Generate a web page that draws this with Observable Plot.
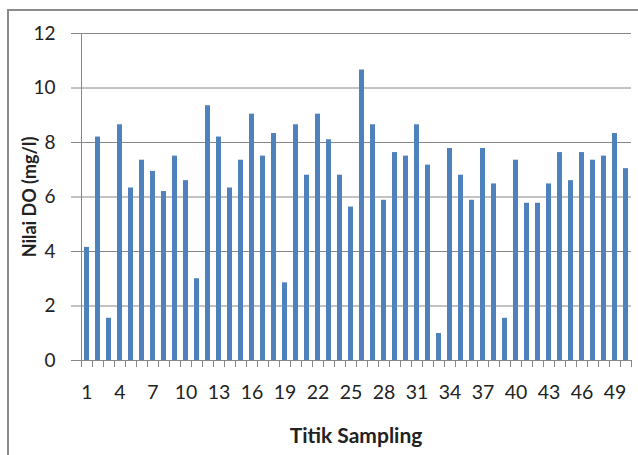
<!DOCTYPE html>
<html>
<head>
<meta charset="utf-8">
<script src="https://cdn.jsdelivr.net/npm/d3@7"></script>
<script src="https://cdn.jsdelivr.net/npm/@observablehq/plot@0.6"></script>
<style>
  html, body { margin: 0; padding: 0; background: #fff; overflow: hidden; }
  #wrap { position: relative; width: 638px; height: 455px; }
  #border { position: absolute; left: 7px; top: 9px; width: 640px; height: 460px; border: 2px solid #8c8c8c; box-sizing: border-box; pointer-events: none; }
</style>
</head>
<body>
<div id="wrap"><div id="border"></div></div>
<script>
const titik = d3.range(1, 51);
const nilaiDO = [
  4.15, 8.2, 1.55, 8.65, 6.33, 7.35, 6.94, 6.2, 7.5, 6.6,
  3.0, 9.35, 8.2, 6.33, 7.35, 9.04, 7.5, 8.33, 2.85, 8.65,
  6.8, 9.04, 8.1, 6.8, 5.63, 10.66, 8.65, 5.88, 7.63, 7.5,
  8.65, 7.17, 0.99, 7.78, 6.8, 5.88, 7.78, 6.48, 1.55, 7.35,
  5.77, 5.77, 6.48, 7.63, 6.6, 7.63, 7.35, 7.5, 8.33, 7.04
];
const xTickLabels = [1, 4, 7, 10, 13, 16, 19, 22, 25, 28, 31, 34, 37, 40, 43, 46, 49];
const yTicks = [0, 2, 4, 6, 8, 10, 12];
const yLabel = "Nilai DO (mg/l)";
const xLabel = "Titik Sampling";

const data = titik.map((t, i) => ({titik: t, nilai: nilaiDO[i]}));

const W = 638, H = 455, mL = 80, mR = 7, mT = 33, mB = 95;
const step = (W - mL - mR) / titik.length;
const font = "Lato, 'Open Sans', sans-serif";

const chart = Plot.plot({
  width: W, height: H,
  marginLeft: mL, marginRight: mR, marginTop: mT, marginBottom: mB,
  style: {fontFamily: font, color: "#222", background: "transparent"},
  x: {type: "band", domain: titik, paddingInner: 0.57, paddingOuter: 0.285, axis: null},
  y: {domain: [0, 12], axis: null},
  marks: [
    Plot.gridY(yTicks, {stroke: "#868686", strokeOpacity: 1, strokeWidth: 1}),
    Plot.axisY({ticks: yTicks, tickSize: 9, tickPadding: 16, fontSize: 19, stroke: "#868686", fill: "#222", label: null}),
    Plot.ruleX([titik[0]], {dx: -step / 2, y1: 0, y2: 12, stroke: "#868686"}),
    Plot.barY(data, {x: "titik", y: "nilai", fill: "#4f81bd"}),
    Plot.axisX({ticks: titik, tickSize: 7, tickFormat: () => "", dx: -step / 2, stroke: "#868686", label: null}),
    Plot.axisX({ticks: [titik[titik.length - 1]], tickSize: 7, tickFormat: () => "", dx: step / 2, stroke: "#868686", label: null}),
    Plot.axisX({ticks: xTickLabels, tickSize: 0, tickPadding: 25, fontSize: 19.5, fill: "#222", label: null}),
    Plot.text([xLabel], {frameAnchor: "bottom", lineAnchor: "middle", dy: 76, fontSize: 21, fontWeight: "bold", fill: "#222"}),
    Plot.text([yLabel], {frameAnchor: "left", textAnchor: "middle", lineAnchor: "middle", dx: -50, rotate: -90, fontSize: 18, fontWeight: "bold", fill: "#222"})
  ]
});
document.getElementById("wrap").prepend(chart);
</script>
</body>
</html>
